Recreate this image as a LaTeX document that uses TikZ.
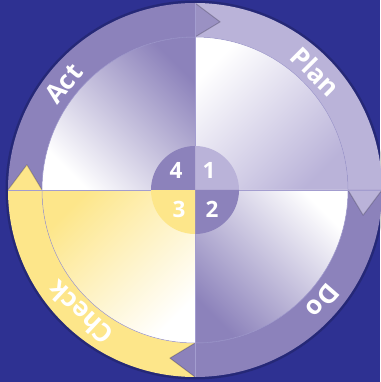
\documentclass[tikz,border=0pt]{standalone}
\usepackage{fontspec}
\setmainfont{Open Sans}
\definecolor{backdrop}{HTML}{2E3192}
\definecolor{planc}{HTML}{BAB3D9}
\definecolor{doc}{HTML}{8C82BB}
\definecolor{checkc}{HTML}{FDE68A}
\definecolor{rim}{HTML}{A39DCF}

\begin{document}
\begin{tikzpicture}[x=1pt, y=1pt,
  seg/.style={fill=#1},
  head/.style={fill=#1, draw=black, draw opacity=0.2, line width=1pt, line join=round},
  word/.style={text=white, inner sep=0pt, font=\fontsize{26}{26}\selectfont\bfseries},
  num/.style={text=white, inner sep=0pt, font=\fontsize{22.5}{22.5}\selectfont\bfseries},
  thin/.style={draw=rim, line width=0.5pt},
]
  \fill[backdrop] (-195,-192) rectangle (185,190);
  \useasboundingbox (-195,-192) rectangle (185,190);
  \fill[black, opacity=0.18] (0,0) circle (189.5pt);

  % ring segments
  \fill[seg=planc] (90:187) arc[start angle=90, end angle=0, radius=187pt]
    -- (0:153) arc[start angle=0, end angle=90, radius=153pt] -- cycle;
  \fill[seg=doc] (0:187) arc[start angle=0, end angle=-90, radius=187pt]
    -- (-90:153) arc[start angle=-90, end angle=0, radius=153pt] -- cycle;
  \fill[seg=checkc] (-90:187) arc[start angle=-90, end angle=-180, radius=187pt]
    -- (180:153) arc[start angle=180, end angle=270, radius=153pt] -- cycle;
  \fill[seg=doc] (180:187) arc[start angle=180, end angle=90, radius=187pt]
    -- (90:153) arc[start angle=90, end angle=180, radius=153pt] -- cycle;

  % arrow heads
  \path[head=planc] (0:153) -- (-8.5:170) -- (0:187);
  \path[head=doc] (-90:153) -- (-98.5:170) -- (-90:187);
  \path[head=checkc] (180:153) -- (171.5:170) -- (180:187);
  \path[head=doc!88!white] (90:153) -- (81.5:170) -- (90:187);

  % inner quarters
  \shade[top color=white, bottom color=planc, shading angle=45]
    (0,0) -- (90:153) arc[start angle=90, end angle=0, radius=153pt] -- cycle;
  \shade[top color=white, bottom color=doc, shading angle=-45]
    (0,0) -- (0:153) arc[start angle=0, end angle=-90, radius=153pt] -- cycle;
  \shade[top color=checkc, bottom color=white, shading angle=45]
    (0,0) -- (-90:153) arc[start angle=-90, end angle=-180, radius=153pt] -- cycle;
  \shade[top color=doc, bottom color=white, shading angle=-45]
    (0,0) -- (180:153) arc[start angle=180, end angle=90, radius=153pt] -- cycle;
  \draw[thin] (0,0) circle (153pt);
  \draw[thin] (-187,0) -- (187,0);
  \draw[thin] (0,-187) -- (0,187);

  % hub
  \fill[planc] (0,0) -- (0:44) arc[start angle=0, end angle=90, radius=44pt] -- cycle;
  \fill[doc] (0,0) -- (0:44) arc[start angle=0, end angle=-90, radius=44pt] -- cycle;
  \fill[checkc] (0,0) -- (-90:44) arc[start angle=-90, end angle=-180, radius=44pt] -- cycle;
  \fill[doc] (0,0) -- (180:44) arc[start angle=180, end angle=90, radius=44pt] -- cycle;

  \node[num] (one) at (14,20) {1};
  \node[num] (two) at (17,-19) {2};
  \node[num] (three) at (-16,-19) {3};
  \node[num] (four) at (-19,20) {4};

  \node[word, rotate=-45] (plan) at (44.5:169) {Plan};
  \node[word, rotate=-131] (do) at (-41:169) {Do};
  \node[word, rotate=137] (check) at (227:168) {Check};
  \node[word, rotate=51] (act) at (141:169) {Act};
\end{tikzpicture}
\end{document}
